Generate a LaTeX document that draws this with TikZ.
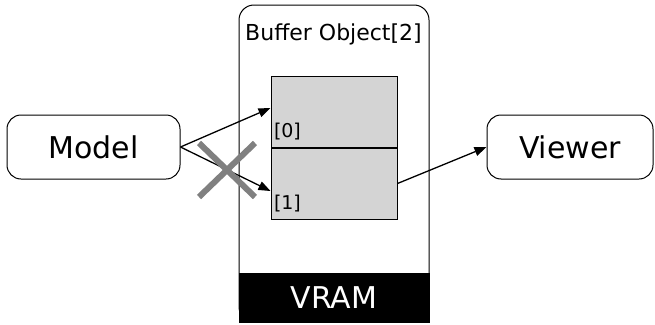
\documentclass[tikz,border=0pt]{standalone}
\usepackage{fontspec}
\setmainfont{DejaVu Sans}
\usetikzlibrary{shapes,arrows.meta,positioning}

\begin{document}
\begin{tikzpicture}[x=1pt, y=1pt, >={Triangle[length=12pt,width=9pt]}, line width=1pt,
    endpoint/.style={rectangle, rounded corners=14pt, draw, minimum height=64pt, font=\fontsize{30}{36}\selectfont},
    cell/.style={rectangle, draw, fill=black!17, minimum width=126pt, minimum height=71pt},
    idx/.style={anchor=south west, inner xsep=3pt, inner ysep=7pt, font=\fontsize{19}{23}\selectfont},
    flow/.style={->, line width=1.3pt}]
    \useasboundingbox (0,0) rectangle (655,-324);

    % Nodes
    \node (model) [endpoint, minimum width=173pt] at (93.5,-147) {Model};
    \node (bo) [rectangle, rounded corners=15pt, draw, minimum width=190pt, minimum height=317pt] at (334,-163.5) {};
    \node (title) [font=\fontsize{22}{26}\selectfont, inner sep=0pt] at (333.5,-34) {Buffer Object[2]};
    \node (vram) [rectangle, draw, fill=black, text=white, minimum width=190pt, minimum height=49pt, anchor=south, font=\fontsize{30}{36}\selectfont] at (bo.south) {VRAM};
    \node (cell0) [cell] at (334,-111.5) {};
    \node (cell1) [cell, below=0pt of cell0] {};
    \node (idx0) [idx] at (cell0.south west) {[0]};
    \node (idx1) [idx] at (cell1.south west) {[1]};
    \node (viewer) [endpoint, minimum width=166pt] at (570,-147) {Viewer};

    % Arrows
    \coordinate (in0) at ([yshift=3.5pt]cell0.west);
    \coordinate (in1) at ([yshift=-7.5pt]cell1.west);
    \draw[flow] (model.east) -- (in0);
    \draw[flow] (model.east) -- (in1);
    \draw[flow] (cell1.east) -- (viewer.west);

    % Blocked path
    \node (cross) [cross out, draw=gray, line width=6pt, minimum width=50pt, minimum height=48pt] at (227,-170) {};
  \end{tikzpicture}
\end{document}
